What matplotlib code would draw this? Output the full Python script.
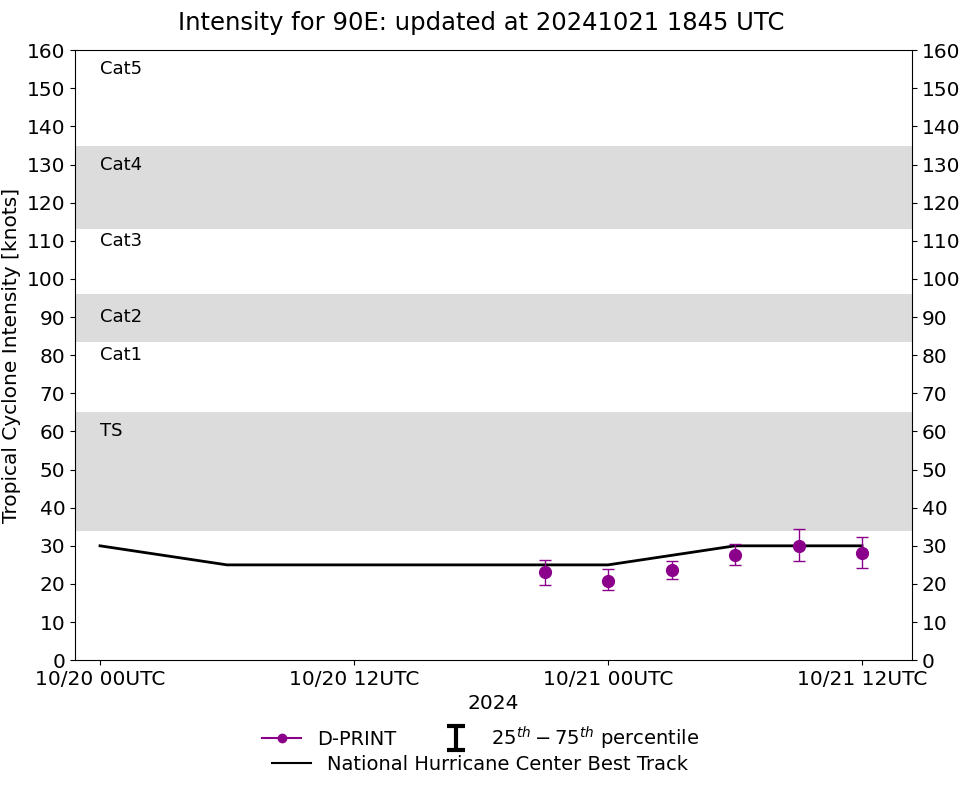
import matplotlib
matplotlib.use("Agg")
import matplotlib.pyplot as plt
from matplotlib.lines import Line2D
from matplotlib.path import Path
import numpy as np

# Data (hours since 10/20 00UTC)
bt_hours = [0, 6, 12, 18, 24, 30, 36]
bt_vals = [30, 25, 25, 25, 25, 30, 30]

dp_hours = [21, 24, 27, 30, 33, 36]
dp_vals = [23.1, 20.9, 23.6, 27.5, 29.9, 28.0]
dp_p25 = [19.8, 18.3, 21.2, 24.9, 25.9, 24.3]
dp_p75 = [26.4, 24.0, 26.1, 30.6, 34.3, 32.2]

tick_hours = [0, 12, 24, 36]
tick_labels = ["10/20 00UTC", "10/20 12UTC", "10/21 00UTC", "10/21 12UTC"]

bands = [(34, 65), (83.5, 96), (113, 135)]
cat_labels = ["Cat5", "Cat4", "Cat3", "Cat2", "Cat1", "TS"]
cat_label_y = [155, 130, 110, 90, 80, 60]

fig = plt.figure(figsize=(9.62, 7.85), dpi=100)
ax = fig.add_axes([0.078, 0.159, 0.870, 0.777])

for lo, hi in bands:
    ax.axhspan(lo, hi, color="#dcdcdc", lw=0, zorder=0)

for lab, yy in zip(cat_labels, cat_label_y):
    ax.text(0, yy, lab, fontsize=13, va="center", ha="left")

ax.plot(bt_hours, bt_vals, color="black", lw=2, zorder=2)

dp_vals_a = np.array(dp_vals)
yerr = [dp_vals_a - np.array(dp_p25), np.array(dp_p75) - dp_vals_a]
ax.errorbar(dp_hours, dp_vals, yerr=yerr, fmt="o", color="#8b008b",
            ecolor="#8b008b", elinewidth=1, capsize=4, markersize=8.5, zorder=3)

ax.set_xlim(-1.18, 38.36)
ax.set_ylim(0, 160)
ax.set_yticks(np.arange(0, 161, 10))
ax.set_xticks(tick_hours)
ax.set_xticklabels(tick_labels)
ax.tick_params(labelsize=14.5, right=True, labelright=True)
ax.set_ylabel("Tropical Cyclone Intensity [knots]", fontsize=14.5)
ax.set_xlabel("2024", fontsize=14.5)
fig.suptitle("Intensity for 90E: updated at 20241021 1845 UTC", fontsize=17.5, y=0.986)

ibeam = Path([(-0.75, 1), (0.75, 1), (0, 1), (0, -1), (-0.75, -1), (0.75, -1)],
             [Path.MOVETO, Path.LINETO, Path.MOVETO, Path.LINETO, Path.MOVETO, Path.LINETO])
h1 = Line2D([], [], color="#8b008b", marker="o", markersize=6, lw=1.5)
h2 = Line2D([], [], color="black", marker=ibeam, markersize=17, markeredgewidth=3,
            markerfacecolor="none", lw=0)
h3 = Line2D([], [], color="black", lw=1.5)
fig.legend([h1, h2], ["D-PRINT", "$25^{th}-75^{th}$ percentile"], ncol=2,
           loc="center", bbox_to_anchor=(0.500, 0.060), frameon=False,
           fontsize=14, columnspacing=2.1)
fig.legend([h3], ["National Hurricane Center Best Track"], loc="center",
           bbox_to_anchor=(0.499, 0.026), frameon=False, fontsize=14)

fig.savefig("out.png", dpi=100)
